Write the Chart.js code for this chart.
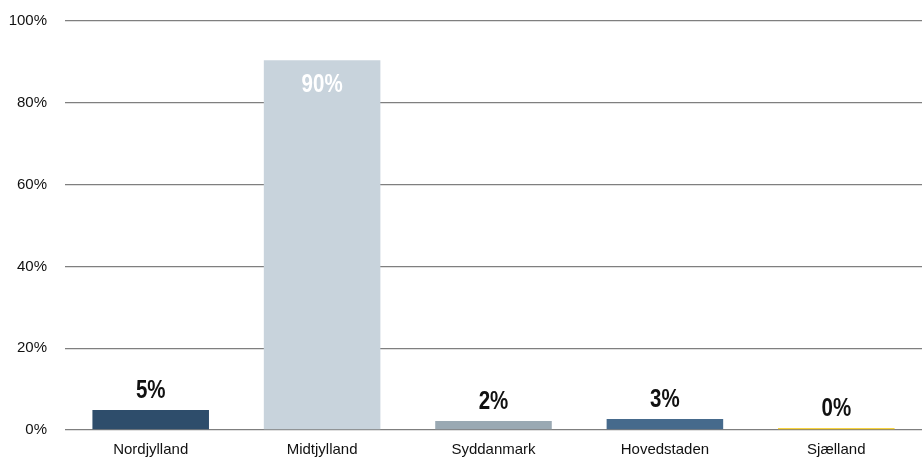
<!DOCTYPE html>
<html>
<head>
<meta charset="utf-8">
<script src="https://cdn.jsdelivr.net/npm/chart.js@4/dist/chart.umd.min.js"></script>
<style>
  html, body { margin: 0; padding: 0; background: #fff; }
  #wrap { width: 922px; height: 457px; }
</style>
</head>
<body>
<div id="wrap"><canvas id="chart" width="922" height="457"></canvas></div>
<script>
// =======================
// Data
// =======================
const regions = ["Nordjylland", "Midtjylland", "Syddanmark", "Hovedstaden", "Sjælland"];
const shares = [4.9, 90.4, 2.2, 2.7, 0.4];
const barColors = ["#2e4d6b", "#c8d3dc", "#9aa9b3", "#466a8c", "#f5c400"];
const yTicks = [0, 20, 40, 60, 80, 100];

const axisFont = { family: "'Liberation Sans', Arial, sans-serif", size: 15 };

// labels drawn above each bar (white and inside for the tall one),
// squeezed horizontally to get a narrow bold look
const valueLabels = {
  id: "valueLabels",
  afterDatasetsDraw(chart) {
    const ctx = chart.ctx;
    const meta = chart.getDatasetMeta(0);
    meta.data.forEach((bar, i) => {
      const text = Math.round(shares[i]) + "%";
      const inside = shares[i] > 50;
      ctx.save();
      ctx.font = "bold 25px 'Liberation Sans', Arial, sans-serif";
      ctx.textAlign = "center";
      ctx.textBaseline = "middle";
      ctx.fillStyle = inside ? "#ffffff" : "#111111";
      ctx.translate(bar.x, inside ? bar.y + 25 : bar.y - 19);
      ctx.scale(0.82, 1);
      ctx.fillText(text, 0, 0);
      ctx.restore();
    });
  }
};

new Chart(document.getElementById("chart").getContext("2d"), {
  type: "bar",
  data: {
    labels: regions,
    datasets: [{
      data: shares,
      backgroundColor: barColors,
      borderWidth: 0,
      categoryPercentage: 1,
      barPercentage: 0.68
    }]
  },
  options: {
    responsive: false,
    animation: false,
    layout: { padding: { top: 21, right: 0, left: 0, bottom: 0 } },
    plugins: {
      legend: { display: false },
      tooltip: { enabled: false }
    },
    scales: {
      x: {
        grid: { display: false },
        border: { display: false },
        afterFit: axis => { axis.height = 27; },
        ticks: { color: "#111", padding: 3, font: axisFont }
      },
      y: {
        min: 0,
        max: 100,
        afterBuildTicks: axis => { axis.ticks = yTicks.map(v => ({ value: v })); },
        afterFit: axis => {
          axis.width = 65;
          axis.paddingTop = 0;
          axis.paddingBottom = 0;
        },
        grid: { color: "#7f7f7f", lineWidth: 1.3, drawTicks: false },
        border: { display: false },
        ticks: {
          color: "#111",
          padding: 18,
          callback: v => v + "%",
          font: axisFont
        }
      }
    }
  },
  plugins: [valueLabels]
});
</script>
</body>
</html>
